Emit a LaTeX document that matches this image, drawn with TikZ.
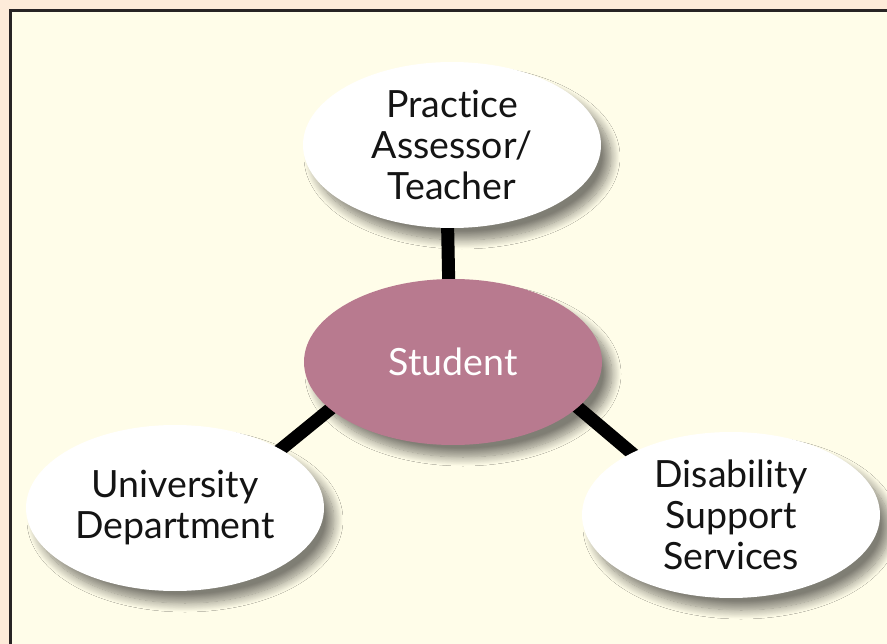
\documentclass[tikz,border=0pt]{standalone}
\usepackage{fontspec}
\setmainfont{Lato}[Ligatures={NoCommon}]
\usetikzlibrary{shapes.geometric}
\usetikzlibrary{shadows.blur}
\usetikzlibrary{backgrounds}
\definecolor{peach}{RGB}{253,235,217}
\definecolor{cream}{RGB}{255,253,233}
\definecolor{rim}{RGB}{40,36,36}
\definecolor{mauve}{RGB}{184,122,143}

\begin{document}
\begin{tikzpicture}[x=1pt, y=-1pt,
    bubble/.style={ellipse, fill=white, minimum width=298pt, minimum height=166pt,
      inner sep=0pt, align=center, text=black!92,
      font=\fontsize{37.5}{41}\selectfont,
      blur shadow={shadow xshift=10pt, shadow yshift=-12pt, shadow blur steps=14,
        shadow blur radius=9pt, shadow opacity=50}},
    hub/.style={bubble, fill=mauve, text=white},
    link/.style={line width=13pt, black, shorten <=-6pt, shorten >=-6pt}]

    \useasboundingbox (0,0) rectangle (887,644);

    % draw nodes
    \node[hub] (student) at (453,362) {Student};
    \node[bubble] (assessor) at (452,145) {Practice\\Assessor/\\Teacher};
    \node[bubble] (university) at (175,508) {University\\Department};
    \node[bubble] (disability) at (731,515) {Disability\\Support\\Services};

    \begin{scope}[on background layer]
      % draw frame
      \clip (0,0) rectangle (887,644);
      \fill[peach] (0,0) rectangle (887,644);
      \draw[rim, line width=3.5pt, fill=cream] (10.5,10.5) rectangle (900,660);

      % draw links
      \draw[link] (student.93) -- (assessor.267);
      \draw[link] (student.201) -- (university.29);
      \draw[link] (student.340) -- (disability.148);
    \end{scope}

\end{tikzpicture}
\end{document}
